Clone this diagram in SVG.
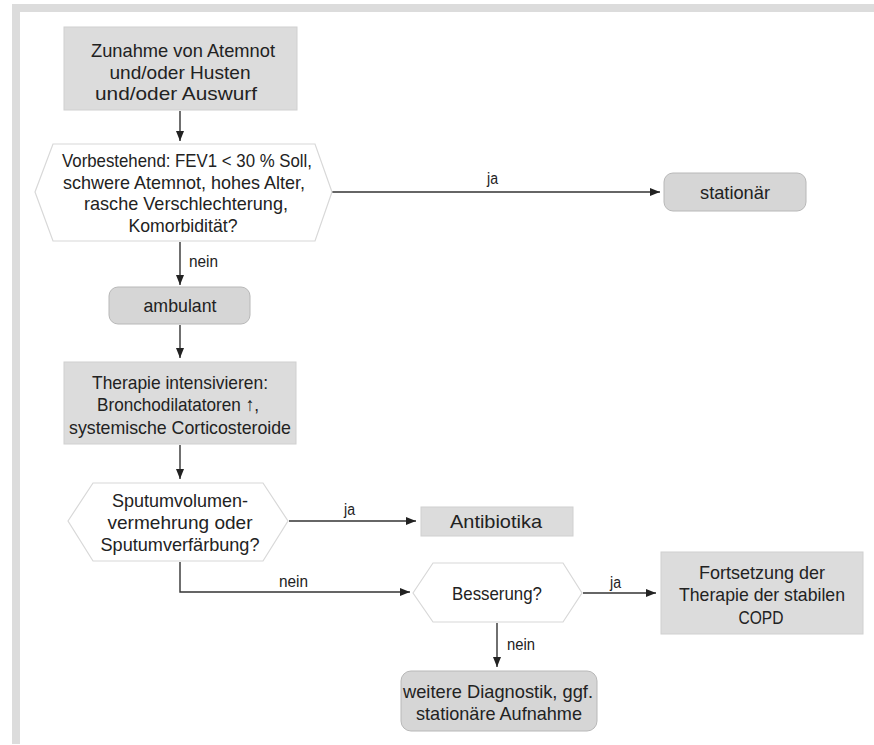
<svg xmlns="http://www.w3.org/2000/svg" width="874" height="745" viewBox="0 0 874 745">
<defs>
<style>
text{font-family:"Liberation Sans",Arial,sans-serif;font-size:19px;fill:#222;text-anchor:middle}
.lbl{font-size:16px;text-anchor:start}
.box{fill:#dcdcdc;stroke:#d0d0d0;stroke-width:1}
.rbox{fill:#d6d6d6;stroke:#b8b8b8;stroke-width:1}
.hex{fill:#fff;stroke:#d8d8d8;stroke-width:1.2}
.con{fill:none;stroke:#333;stroke-width:1.4;marker-end:url(#ah)}
</style>
<marker id="ah" viewBox="0 0 10 8" refX="10" refY="4" markerWidth="10" markerHeight="8" markerUnits="userSpaceOnUse" orient="auto">
<path d="M0,0 L10,4 L0,8 z" fill="#222"/>
</marker>
</defs>
<rect width="874" height="745" fill="#fff"/>
<g id="frame">
<rect x="12" y="4" width="862" height="8" fill="#dcdcdc"/>
<rect x="12" y="4" width="8" height="740" fill="#dcdcdc"/>
</g>
<g id="connectors">
<line class="con" x1="180" y1="111" x2="180" y2="141"/>
<line class="con" x1="332" y1="192" x2="660" y2="192"/>
<line class="con" x1="180" y1="242" x2="180" y2="285"/>
<line class="con" x1="180" y1="325" x2="180" y2="358"/>
<line class="con" x1="180" y1="445" x2="180" y2="479"/>
<line class="con" x1="289" y1="521" x2="416" y2="521"/>
<polyline class="con" points="180,562 180,592 410,592"/>
<line class="con" x1="583" y1="593" x2="656" y2="593"/>
<line class="con" x1="497" y1="623" x2="497" y2="667"/>
<text class="lbl" x="487" y="184" textLength="11" lengthAdjust="spacingAndGlyphs">ja</text>
<text class="lbl" x="189" y="267" textLength="29" lengthAdjust="spacingAndGlyphs">nein</text>
<text class="lbl" x="344" y="515" textLength="11" lengthAdjust="spacingAndGlyphs">ja</text>
<text class="lbl" x="279" y="587" textLength="29" lengthAdjust="spacingAndGlyphs">nein</text>
<text class="lbl" x="610" y="588" textLength="11" lengthAdjust="spacingAndGlyphs">ja</text>
<text class="lbl" x="507" y="650" textLength="28" lengthAdjust="spacingAndGlyphs">nein</text>
</g>
<g id="n-zunahme">
<rect class="box" x="64" y="27" width="233" height="83"/>
<text x="183" y="57" textLength="184" lengthAdjust="spacingAndGlyphs">Zunahme von Atemnot</text>
<text x="180" y="79" textLength="141" lengthAdjust="spacingAndGlyphs">und/oder Husten</text>
<text x="176" y="100" textLength="162" lengthAdjust="spacingAndGlyphs">und/oder Auswurf</text>
</g>
<g id="n-vorbestehend">
<polygon class="hex" points="35,192 53,144 315,144 332,192 315,241 53,241"/>
<text x="187" y="167" textLength="250" lengthAdjust="spacingAndGlyphs">Vorbestehend: FEV1 &lt; 30 % Soll,</text>
<text x="184" y="189" textLength="242" lengthAdjust="spacingAndGlyphs">schwere Atemnot, hohes Alter,</text>
<text x="186" y="210" textLength="204" lengthAdjust="spacingAndGlyphs">rasche Verschlechterung,</text>
<text x="183" y="232" textLength="109" lengthAdjust="spacingAndGlyphs">Komorbidität?</text>
</g>
<g id="n-stationaer">
<rect class="rbox" x="664" y="173" width="142" height="38" rx="9"/>
<text x="735" y="199" textLength="70" lengthAdjust="spacingAndGlyphs">stationär</text>
</g>
<g id="n-ambulant">
<rect class="rbox" x="109" y="287" width="141" height="37" rx="9"/>
<text x="180" y="312" textLength="73" lengthAdjust="spacingAndGlyphs">ambulant</text>
</g>
<g id="n-therapie">
<rect class="box" x="64" y="362" width="232" height="82"/>
<text x="180" y="389" textLength="176" lengthAdjust="spacingAndGlyphs">Therapie intensivieren:</text>
<text x="178" y="411" textLength="162" lengthAdjust="spacingAndGlyphs">Bronchodilatatoren ↑,</text>
<text x="180" y="434" textLength="222" lengthAdjust="spacingAndGlyphs">systemische Corticosteroide</text>
</g>
<g id="n-sputum">
<polygon class="hex" points="68,521 93,483 263,483 288,521 263,561 93,561"/>
<text x="180" y="507" textLength="136" lengthAdjust="spacingAndGlyphs">Sputumvolumen-</text>
<text x="180" y="529" textLength="145" lengthAdjust="spacingAndGlyphs">vermehrung oder</text>
<text x="180" y="551" textLength="159" lengthAdjust="spacingAndGlyphs">Sputumverfärbung?</text>
</g>
<g id="n-antibiotika">
<rect class="box" x="421" y="507" width="152" height="29"/>
<text x="496" y="528" textLength="92" lengthAdjust="spacingAndGlyphs">Antibiotika</text>
</g>
<g id="n-besserung">
<polygon class="hex" points="413,593 433,563 563,563 582,593 563,622 433,622"/>
<text x="497" y="600" textLength="90" lengthAdjust="spacingAndGlyphs">Besserung?</text>
</g>
<g id="n-fortsetzung">
<rect class="box" x="661" y="552" width="202" height="82"/>
<text x="762" y="579" textLength="126" lengthAdjust="spacingAndGlyphs">Fortsetzung der</text>
<text x="762" y="601" textLength="166" lengthAdjust="spacingAndGlyphs">Therapie der stabilen</text>
<text x="761" y="624" textLength="45" lengthAdjust="spacingAndGlyphs">COPD</text>
</g>
<g id="n-weitere">
<rect class="rbox" x="401" y="671" width="196" height="60" rx="10"/>
<text x="498" y="698" textLength="190" lengthAdjust="spacingAndGlyphs">weitere Diagnostik, ggf.</text>
<text x="499" y="720" textLength="166" lengthAdjust="spacingAndGlyphs">stationäre Aufnahme</text>
</g>
</svg>
